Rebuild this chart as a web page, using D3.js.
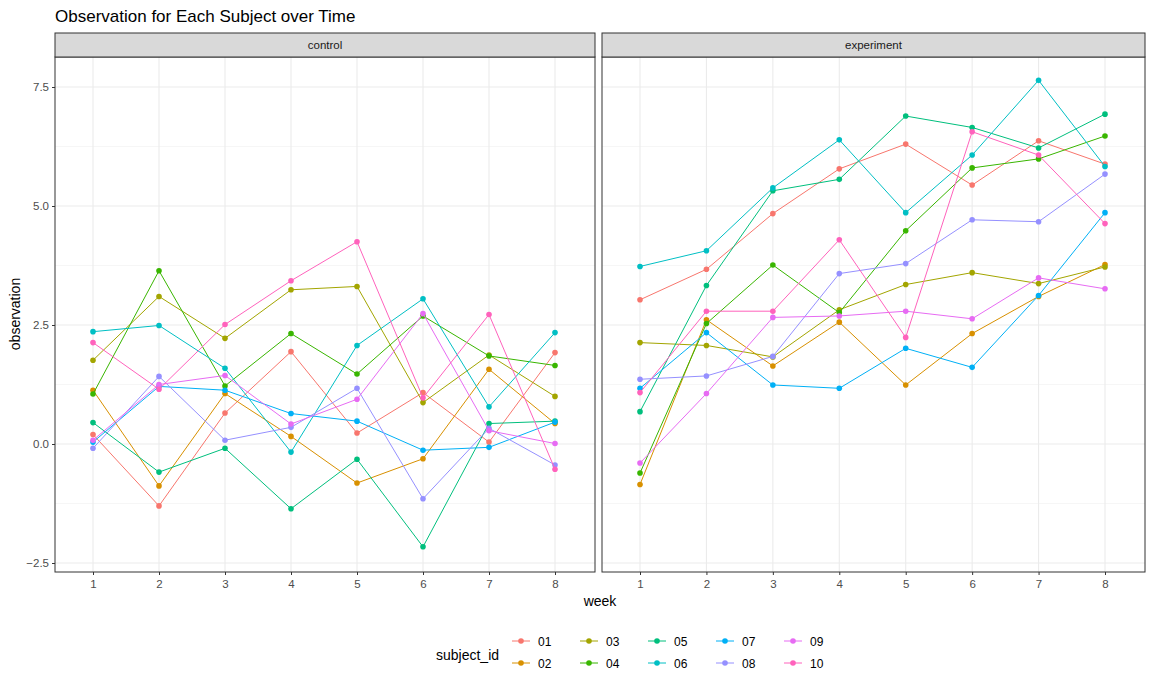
<!DOCTYPE html><html><head><meta charset="utf-8"><script src="https://cdn.jsdelivr.net/npm/d3@7"></script>
<style>body{margin:0;background:#fff}text{font-family:"Liberation Sans",Arial,sans-serif}</style></head><body><svg id="c" width="1152" height="691"></svg>
<script>
const weeks=[1,2,3,4,5,6,7,8];
const subjects=["01","02","03","04","05","06","07","08","09","10"];
const colors=["#F8766D","#D89000","#A3A500","#39B600","#00BF7D","#00BFC4","#00B0F6","#9590FF","#E76BF3","#FF62BC"];
const groups=["control","experiment"];
const control=[
[0.20,-1.30,0.65,1.94,0.23,1.08,0.04,1.92],
[1.13,-0.88,1.06,0.16,-0.82,-0.31,1.57,0.43],
[1.76,3.10,2.22,3.24,3.31,0.87,1.87,1.00],
[1.05,3.64,1.22,2.32,1.47,2.69,1.85,1.65],
[0.45,-0.59,-0.09,-1.36,-0.32,-2.16,0.43,0.48],
[2.36,2.49,1.59,-0.17,2.07,3.05,0.78,2.34],
[0.04,1.21,1.13,0.64,0.48,-0.13,-0.07,0.46],
[-0.09,1.42,0.08,0.35,1.17,-1.15,0.33,-0.44],
[0.08,1.25,1.44,0.42,0.94,2.74,0.28,0.01],
[2.13,1.15,2.51,3.43,4.25,0.97,2.72,-0.53]];
const experiment=[
[3.03,3.67,4.84,5.78,6.30,5.44,6.37,5.88],
[-0.85,2.61,1.64,2.56,1.24,2.32,3.10,3.77],
[2.13,2.07,1.83,2.82,3.35,3.60,3.37,3.72],
[-0.61,2.53,3.76,2.76,4.48,5.80,5.99,6.47],
[0.68,3.33,5.32,5.56,6.89,6.65,6.22,6.93],
[3.73,4.06,5.38,6.39,4.86,6.07,7.64,5.83],
[1.17,2.34,1.24,1.17,2.01,1.61,3.12,4.86],
[1.36,1.43,1.84,3.58,3.79,4.71,4.67,5.67],
[-0.40,1.06,2.66,2.69,2.79,2.63,3.49,3.26],
[1.08,2.79,2.79,4.29,2.24,6.56,6.07,4.63]];
const yTicks=[-2.5,0,2.5,5,7.5];
const svg=d3.select("#c");
const pTop=57,pBot=572;
const y=d3.scaleLinear().domain([0,7.5]).range([444,87]);
const panels=[{name:groups[0],x0:55,x1:595,data:control},{name:groups[1],x0:602,x1:1145,data:experiment}];
svg.append("text").attr("x",55).attr("y",22).attr("font-size",17).attr("fill","#000").text("Observation for Each Subject over Time");
panels.forEach((p,pi)=>{
  const x=d3.scaleLinear().domain([1,8]).range([p.x0+38,p.x1-40]);
  const g=svg.append("g");
  const minorY=[-1.25,1.25,3.75,6.25];
  g.selectAll(".my").data(minorY).join("line").attr("x1",p.x0).attr("x2",p.x1).attr("y1",d=>y(d)).attr("y2",d=>y(d)).attr("stroke","#F0F0F0").attr("stroke-width",0.6);
  g.selectAll(".gy").data(yTicks).join("line").attr("x1",p.x0).attr("x2",p.x1).attr("y1",d=>y(d)).attr("y2",d=>y(d)).attr("stroke","#EBEBEB").attr("stroke-width",1.1);
  g.selectAll(".gx").data(weeks).join("line").attr("y1",pTop).attr("y2",pBot).attr("x1",d=>x(d)).attr("x2",d=>x(d)).attr("stroke","#EBEBEB").attr("stroke-width",1.1);
  p.data.forEach((s,si)=>{
    const line=d3.line().x((d,i)=>x(weeks[i])).y(d=>y(d));
    g.append("path").attr("d",line(s)).attr("fill","none").attr("stroke",colors[si]).attr("stroke-width",1);
    g.selectAll(null).data(s).join("circle").attr("cx",(d,i)=>x(weeks[i])).attr("cy",d=>y(d)).attr("r",2.8).attr("fill",colors[si]);
  });
  g.append("rect").attr("x",p.x0).attr("y",pTop).attr("width",p.x1-p.x0).attr("height",pBot-pTop).attr("fill","none").attr("stroke","#333").attr("stroke-width",1);
  g.append("rect").attr("x",p.x0).attr("y",33).attr("width",p.x1-p.x0).attr("height",24).attr("fill","#D9D9D9").attr("stroke","#333").attr("stroke-width",1);
  g.append("text").attr("x",(p.x0+p.x1)/2).attr("y",49).attr("text-anchor","middle").attr("font-size",11.5).attr("fill","#1A1A1A").text(p.name);
  const ax=d3.axisBottom(x).tickValues(weeks).tickSize(3).tickFormat(d3.format("d"));
  const axg=svg.append("g").attr("transform",`translate(0,${pBot})`).call(ax);
  axg.select(".domain").remove();
  axg.selectAll("line").attr("stroke","#333");
  axg.selectAll("text").attr("font-size",11.5).attr("fill","#4D4D4D").attr("dy","0.9em");
  if(pi===0){
    const ay=d3.axisLeft(y).tickValues(yTicks).tickSize(3).tickFormat(d3.format(".1f"));
    const ayg=svg.append("g").attr("transform",`translate(${p.x0},0)`).call(ay);
    ayg.select(".domain").remove();
    ayg.selectAll("line").attr("stroke","#333");
    ayg.selectAll("text").attr("font-size",11.5).attr("fill","#4D4D4D");
  }
});
svg.append("text").attr("x",600).attr("y",606).attr("text-anchor","middle").attr("font-size",14).text("week");
svg.append("text").attr("transform","translate(20,314) rotate(-90)").attr("text-anchor","middle").attr("font-size",14).text("observation");
svg.append("text").attr("x",436).attr("y",660).attr("font-size",14).text("subject_id");
const lg=svg.append("g");
subjects.forEach((s,i)=>{
  const cx=512+Math.floor(i/2)*68, cy=641+(i%2)*22;
  lg.append("line").attr("x1",cx).attr("x2",cx+18).attr("y1",cy).attr("y2",cy).attr("stroke",colors[i]).attr("stroke-width",1);
  lg.append("circle").attr("cx",cx+9).attr("cy",cy).attr("r",2.8).attr("fill",colors[i]);
  lg.append("text").attr("x",cx+26).attr("y",cy+4.5).attr("font-size",12).attr("fill","#000").text(s);
});
</script></body></html>
